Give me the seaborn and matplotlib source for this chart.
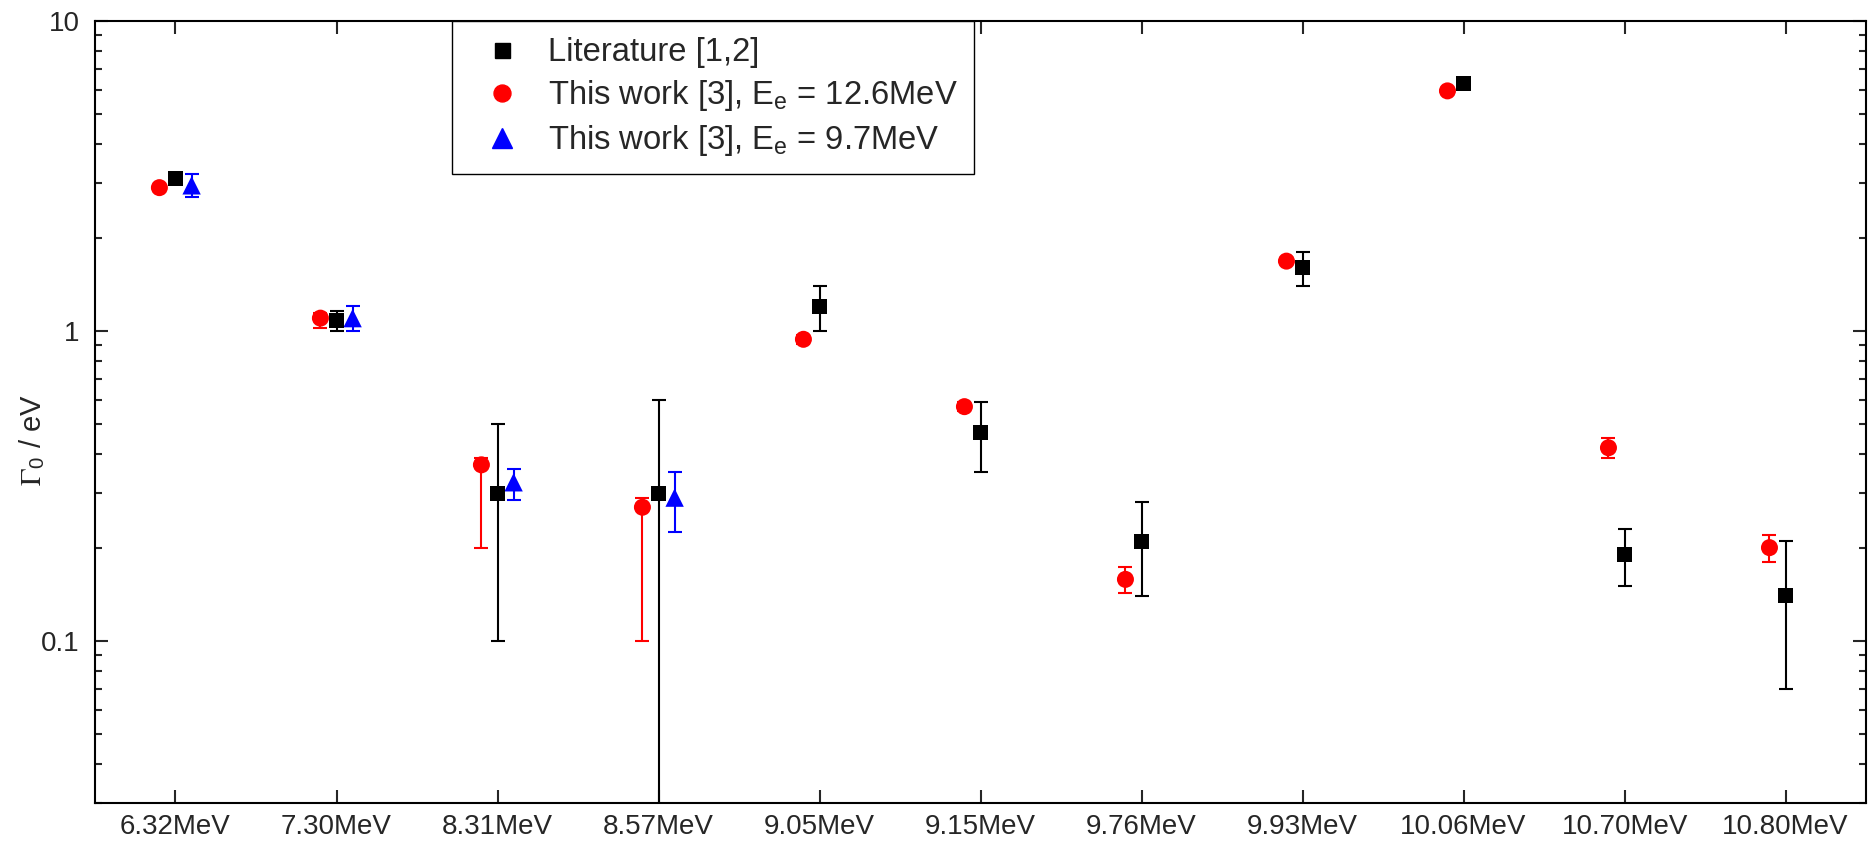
import numpy as np
import pandas as pd
import matplotlib
matplotlib.use("Agg")
import matplotlib.pyplot as plt
import matplotlib.ticker as mticker
from matplotlib.lines import Line2D
import seaborn as sns

# transition energies (categorical x axis)
levels = ["6.32MeV", "7.30MeV", "8.31MeV", "8.57MeV", "9.05MeV", "9.15MeV",
          "9.76MeV", "9.93MeV", "10.06MeV", "10.70MeV", "10.80MeV"]

# Literature [1,2]
lit_val = [3.1, 1.08, 0.30, 0.30, 1.2, 0.47, 0.21, 1.6, 6.3, 0.19, 0.14]
lit_err = [0.1, 0.08, 0.2, 0.3, 0.2, 0.12, 0.07, 0.2, 0.25, 0.04, 0.07]

# This work, Ee = 12.6 MeV
e126_val = [2.9, 1.1, 0.37, 0.27, 0.94, 0.57, 0.158, 1.68, 5.95, 0.42, 0.20]
e126_lo = [0.05, 0.08, 0.17, 0.17, 0.03, 0.02, 0.015, 0.04, 0.1, 0.03, 0.02]
e126_hi = [0.05, 0.04, 0.02, 0.02, 0.03, 0.02, 0.015, 0.04, 0.1, 0.03, 0.02]

# This work, Ee = 9.7 MeV
e97_levels = ["6.32MeV", "7.30MeV", "8.31MeV", "8.57MeV"]
e97_val = [2.95, 1.1, 0.325, 0.29]
e97_lo = [0.25, 0.1, 0.04, 0.065]
e97_hi = [0.25, 0.1, 0.035, 0.06]

names = ["Literature [1,2]",
         r"This work [3], $\mathregular{E_e}$ = 12.6MeV",
         r"This work [3], $\mathregular{E_e}$ = 9.7MeV"]
colors = {names[0]: "black", names[1]: "red", names[2]: "blue"}
markers = {names[0]: "s", names[1]: "o", names[2]: "^"}
sizes = {names[0]: 117, names[1]: 150, names[2]: 175}
offsets = {names[0]: 0.0, names[1]: -0.1, names[2]: 0.1}

# long-form table, literature last so its squares sit on top
df = pd.concat([
    pd.DataFrame({"level": levels, "series": names[1], "gamma": e126_val,
                  "lo": e126_lo, "hi": e126_hi}),
    pd.DataFrame({"level": e97_levels, "series": names[2], "gamma": e97_val,
                  "lo": e97_lo, "hi": e97_hi}),
    pd.DataFrame({"level": levels, "series": names[0], "gamma": lit_val,
                  "lo": lit_err, "hi": lit_err}),
], ignore_index=True)
df["x"] = df["level"].map({l: i for i, l in enumerate(levels)}) + df["series"].map(offsets)

sns.set_style("ticks")
plt.rcParams["font.family"] = ["Liberation Sans", "DejaVu Sans"]
plt.rcParams["mathtext.fontset"] = "stix"

fig = plt.figure(figsize=(18.7, 8.43), dpi=100)
ax = fig.add_axes([0.0508, 0.0474, 0.9471, 0.9277])
ax.set_yscale("log")

for name in [names[1], names[2], names[0]]:
    sub = df[df["series"] == name]
    ax.errorbar(sub["x"], sub["gamma"], yerr=[sub["lo"], sub["hi"]], fmt="none",
                ecolor=colors[name], elinewidth=1.5, capsize=5, capthick=1.5, zorder=2)

sns.scatterplot(data=df, x="x", y="gamma", hue="series", style="series",
                size="series", sizes=sizes, palette=colors, markers=markers,
                linewidth=0, legend=False, zorder=3, ax=ax)

ax.set_xlim(-0.5, 10.5)
ax.set_ylim(0.03, 10)
ax.set_xticks(range(len(levels)))
ax.set_xticklabels(levels)
ax.set_xlabel("")
ax.set_ylabel(r"$\Gamma_\mathregular{0}$ / eV", fontsize=21)
ax.yaxis.set_label_coords(-0.027, 0.464)

ax.yaxis.set_major_locator(mticker.LogLocator(base=10))
ax.yaxis.set_minor_locator(mticker.LogLocator(base=10, subs=np.arange(2, 10)))
ax.yaxis.set_major_formatter(mticker.FuncFormatter(lambda v, p: f"{v:g}"))
ax.yaxis.set_minor_formatter(mticker.NullFormatter())

ax.tick_params(which="major", direction="in", length=9.5, width=1.5, labelsize=20,
               top=True, right=True)
ax.tick_params(axis="x", pad=8)
ax.tick_params(axis="y", pad=11)
ax.tick_params(which="minor", direction="in", length=5, width=1.5, right=True)
for s in ax.spines.values():
    s.set_linewidth(1.5)
    s.set_color("black")

handles = [
    Line2D([], [], ls="none", marker="s", color="black", markersize=10.8),
    Line2D([], [], ls="none", marker="o", color="red", markersize=12.2),
    Line2D([], [], ls="none", marker="^", color="blue", markersize=15),
]
leg = ax.legend(handles, names, loc="upper left", bbox_to_anchor=(0.2018, 1.0),
                fontsize=23.6, frameon=True, fancybox=False, framealpha=1,
                edgecolor="black", borderpad=0.5, handlelength=2.0,
                handletextpad=0.42, labelspacing=0.3, borderaxespad=0)
leg.get_frame().set_linewidth(1.0)

fig.savefig("out.png", dpi=100)
